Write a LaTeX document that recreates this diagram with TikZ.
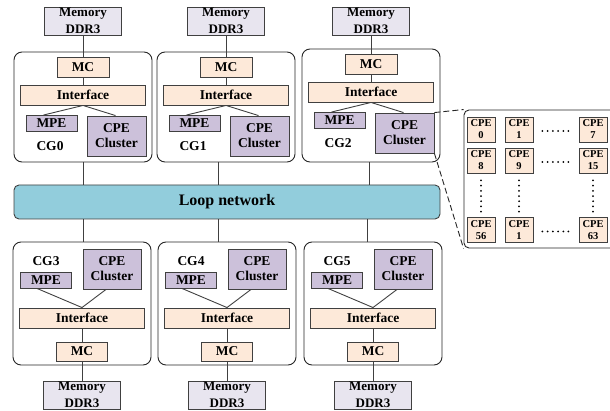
\documentclass[tikz,border=0pt]{standalone}
\usepackage{fontspec}
\setmainfont{Liberation Serif}
\usetikzlibrary{calc}
\definecolor{memfill}{HTML}{E8E5EF}
\definecolor{peach}{HTML}{FDE9D9}
\definecolor{lav}{HTML}{CCC1DA}
\definecolor{loopc}{HTML}{92CDDC}
\definecolor{edge}{HTML}{404040}
\begin{document}
\begin{tikzpicture}[x=1pt,y=-1pt,
 base/.style={draw=edge, line width=0.9pt, inner sep=0pt, align=center, font=\bfseries\fontsize{13.5}{15}\selectfont},
 membox/.style={base, fill=memfill, minimum width=77pt, minimum height=28pt, font=\bfseries\fontsize{13}{16.5}\selectfont},
 mcbox/.style={base, fill=peach, minimum width=52pt, minimum height=20pt},
 ifbox/.style={base, fill=peach, minimum width=125pt, minimum height=20pt},
 mpebox/.style={base, fill=lav, minimum width=51pt, minimum height=16pt},
 cpebox/.style={base, fill=lav, minimum width=59pt, minimum height=40pt},
 cgbox/.style={draw=black!85, line width=0.9pt, rounded corners=8pt, minimum width=138pt, inner sep=0pt},
 cglabel/.style={font=\bfseries\fontsize{13.5}{15}\selectfont, inner sep=0pt},
 wire/.style={draw=edge, line width=0.9pt},
 cell/.style={base, fill=peach, minimum width=28pt, minimum height=25pt, font=\bfseries\fontsize{10.5}{12}\selectfont},
 detbox/.style={draw=black!85, line width=0.9pt, rounded corners=5pt, minimum width=160pt, minimum height=138pt, inner sep=0pt},
 dots/.style={draw=black, line width=2pt, line cap=round, dash pattern=on 0pt off 5.2pt},
 dashwire/.style={draw=black!85, line width=0.9pt, dash pattern=on 6pt off 3pt}]
\useasboundingbox (0,0) rectangle (610,411);

\node[base, fill=loopc, rounded corners=5pt, minimum width=426pt, minimum height=34pt, font=\bfseries\fontsize{16}{18}\selectfont] (loop) at (227,202) {Loop network};

% top row
\foreach \i/\x/\dy/\lx/\h in {0/14/0/83/110, 1/157/0/218/110, 2/302/-3/369/113} {
 \node[cgbox, minimum height=\h pt] (cg\i) at (\x+69, 162-\h/2) {};
 \node[membox] (mem\i) at (\x+69, 21) {Memory\\DDR3};
 \node[mcbox] (mc\i) at (\x+69, 67+\dy) {MC};
 \node[ifbox] (if\i) at (\x+69, 95+\dy) {Interface};
 \node[mpebox] (mpe\i) at (\x+37.5, 123.5+\dy) {MPE};
 \node[cpebox] (cpe\i) at (\x+102.5, 136+\dy) {CPE\\Cluster};
 \node[cglabel] (lab\i) at (\x+36, 146+\dy) {CG\i};
 \coordinate (t\i) at (\lx, 0);
 \draw[wire] (mem\i.south) -- (mc\i.north);
 \draw[wire] (mc\i.south) -- (if\i.north);
 \draw[wire] (if\i.south) -- ($(mpe\i.north)+(-8,0)$);
 \draw[wire] (if\i.south) -- ($(cpe\i.north)+(-1,0)$);
 \draw[wire] (cg\i.south -| t\i) -- (loop.north -| t\i);
}

% bottom row
\foreach \i/\x/\lx in {3/13/83, 4/158/218, 5/304/367} {
 \node[cgbox, minimum height=123pt] (cg\i) at (\x+69, 303.5) {};
 \node[cglabel] (lab\i) at (\x+33, 261) {CG\i};
 \node[cpebox, minimum width=58pt] (cpe\i) at (\x+99, 269) {CPE\\Cluster};
 \node[mpebox] (mpe\i) at (\x+33, 280) {MPE};
 \node[ifbox] (if\i) at (\x+69, 318) {Interface};
 \node[mcbox, minimum width=51pt, minimum height=19pt] (mc\i) at (\x+69, 351.5) {MC};
 \node[membox] (mem\i) at (\x+69, 395) {Memory\\DDR3};
 \coordinate (b\i) at (\lx, 0);
 \draw[wire] ($(mpe\i.south)+(-9,0)$) -- (if\i.north);
 \draw[wire] ($(cpe\i.south)+(-6,0)$) -- (if\i.north);
 \draw[wire] (if\i.south) -- (mc\i.north);
 \draw[wire] (mc\i.south) -- (mem\i.north);
 \draw[wire] (loop.south -| b\i) -- (cg\i.north -| b\i);
}

% CPE cluster detail
\node[detbox] (det) at (544,179) {};
\node[cell] (c00) at (481,129.5) {CPE\\0};
\node[cell] (c01) at (519,129.5) {CPE\\1};
\node[cell] (c02) at (593,129.5) {CPE\\7};
\node[cell] (c10) at (481,160.5) {CPE\\8};
\node[cell] (c11) at (519,160.5) {CPE\\9};
\node[cell] (c12) at (593,160.5) {CPE\\15};
\node[cell] (c20) at (481,230) {CPE\\56};
\node[cell] (c21) at (519,230) {CPE\\1};
\node[cell] (c22) at (593,230) {CPE\\63};
\draw[dots] ($(c01.east)+(9,1.5)$) -- ($(c02.west)+(-6,1.5)$);
\draw[dots] ($(c11.east)+(9,1.5)$) -- ($(c12.west)+(-6,1.5)$);
\draw[dots] ($(c21.east)+(9,1.5)$) -- ($(c22.west)+(-6,1.5)$);
\draw[dots] ($(c10.south)+(0,7)$) -- ($(c20.north)+(0,-5)$);
\draw[dots] ($(c11.south)+(0,7)$) -- ($(c21.north)+(0,-5)$);
\draw[dots] ($(c12.south)+(0,7)$) -- ($(c22.north)+(0,-5)$);
\draw[dashwire] (cpe2.north east) -- (det.north west);
\draw[dashwire] (cpe2.south east) -- (det.south west);
\end{tikzpicture}
\end{document}
